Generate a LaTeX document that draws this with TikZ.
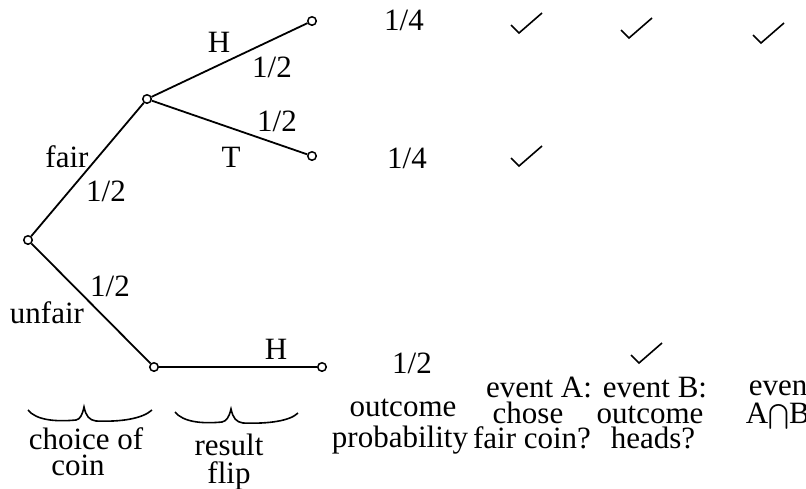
\documentclass[tikz,border=0pt]{standalone}
\usepackage{fontspec}
\setmainfont{Liberation Serif}
\usepackage{amsmath}
\begin{document}
\begin{tikzpicture}[x=1pt,y=-1pt,line width=1.8pt,
  dot/.style={draw,circle,inner sep=0pt,minimum size=8.5pt,line width=1.5pt},
  lbl/.style={inner sep=0pt,anchor=base,font=\fontsize{31}{31}\selectfont},
  chk/.pic={\draw[line width=1.6pt] (-8,-8) -- (0,0) -- (23,-20);},
  brc/.style={line width=1.6pt}]
\useasboundingbox (0,0) rectangle (806,488);
\clip (0,0) rectangle (806,488);
% tree nodes
\node[dot] (r) at (28,240) {};
\node[dot] (f) at (147,99) {};
\node[dot] (fh) at (312,21) {};
\node[dot] (ft) at (312,156) {};
\node[dot] (u) at (154,367) {};
\node[dot] (uh) at (322,367) {};
\draw (r) -- (f);
\draw (f) -- (fh);
\draw (f) -- (ft);
\draw (r) -- (u);
\draw (u) -- (uh);
% edge labels
\node[lbl] (lH1) at (219,52) {H};
\node[lbl] (lp1) at (272,77) {1/2};
\node[lbl] (lp2) at (277,131) {1/2};
\node[lbl] (lT) at (231,167) {T};
\node[lbl] (lfair) at (67,167) {fair};
\node[lbl] (lp3) at (106,201) {1/2};
\node[lbl] (lp4) at (110,296) {1/2};
\node[lbl] (lunf) at (47,323) {unfair};
\node[lbl] (lH2) at (276,359) {H};
% probabilities
\node[lbl] (p1) at (404,30) {1/4};
\node[lbl] (p2) at (407,168) {1/4};
\node[lbl] (p3) at (412,373) {1/2};
% checkmarks
\pic at (519,33) {chk};
\pic at (629,38) {chk};
\pic at (761,43) {chk};
\pic at (519,166) {chk};
\pic at (639,363) {chk};
% column headings
\node[lbl] (h1a) at (403,416) {outcome};
\node[lbl] (h1b) at (400,447) {probability};
\node[lbl] (h2a) at (539,397) {event A:};
\node[lbl] (h2b) at (528,423) {chose};
\node[lbl] (h2c) at (532,448) {fair coin?};
\node[lbl] (h3a) at (655,397) {event B:};
\node[lbl] (h3b) at (650,423) {outcome};
\node[lbl] (h3c) at (653,448) {heads?};
\node[lbl,anchor=base west] (h4a) at (748,395) {event};
\node[lbl,anchor=base west] (h4b) at (745,423) {A$\bigcap$B};
% braces
\draw[brc] (28,410) .. controls (36,420) and (55,422) .. (76,420)
  .. controls (80,419) and (82,416) .. (84,407)
  .. controls (86,416) and (89,420) .. (96,421)
  .. controls (120,422) and (142,419) .. (152,410);
\draw[brc] (175,412) .. controls (183,422) and (202,424) .. (222,422)
  .. controls (226,421) and (229,418) .. (231,409)
  .. controls (233,418) and (236,422) .. (243,423)
  .. controls (268,424) and (290,421) .. (298,413);
\node[lbl] (b1a) at (86,449) {choice of};
\node[lbl] (b1b) at (78,475) {coin};
\node[lbl] (b2a) at (229,455) {result};
\node[lbl] (b2b) at (229,483) {flip};
\end{tikzpicture}
\end{document}
